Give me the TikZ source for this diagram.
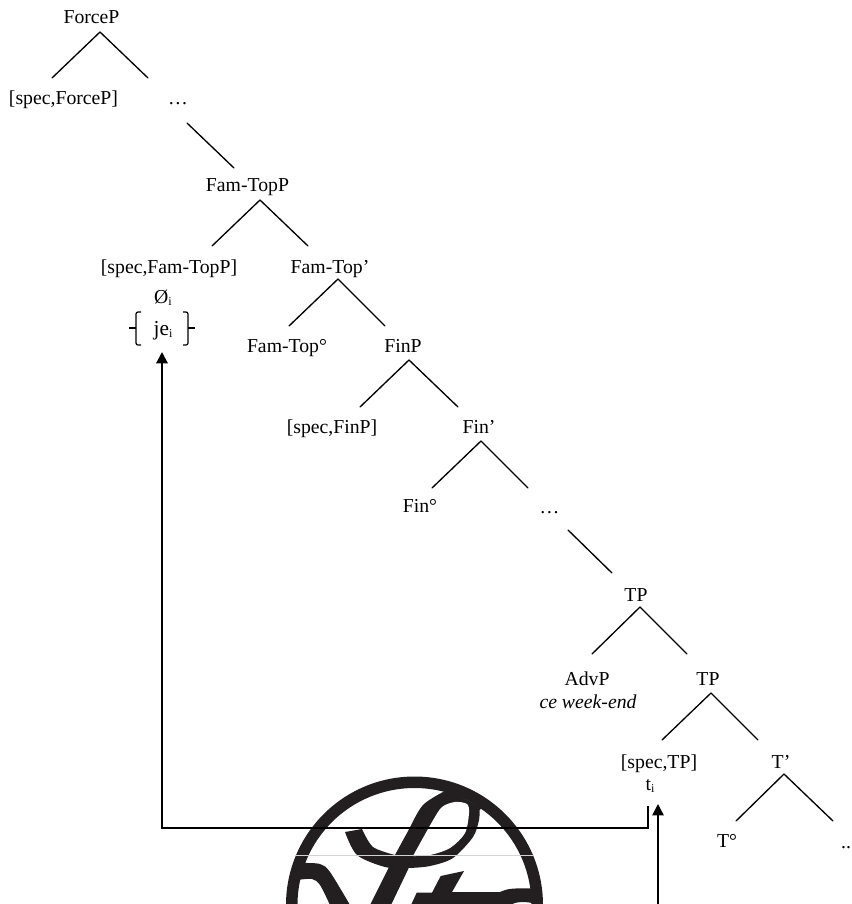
\documentclass[tikz,border=0pt]{standalone}
\usepackage{fontspec}
\setmainfont{Liberation Serif}
\usetikzlibrary{arrows.meta}
\newcommand{\subi}{\raisebox{-2pt}{\fontsize{9}{9}\selectfont i}}
\definecolor{logoink}{HTML}{231F20}
\tikzset{
  lbl/.style={inner sep=0pt,anchor=base,font=\fontsize{14.8}{17}\selectfont},
  tree/.style={line width=1pt,black,line cap=round},
  heavy/.style={line width=1.5pt,black},
  brk/.style={line width=.9pt,black},
  uptip/.style={-{Triangle[length=8.5pt,width=8.5pt]}}
}
\begin{document}
\begin{tikzpicture}[x=.75pt,y=-.75pt]
\useasboundingbox (0,0) rectangle (851,904);
% logo
\begin{scope}
\clip (0,0) rectangle (851,904);
\fill[logoink,even odd rule] (414.5,905) circle [radius=128.5] (414.5,905) circle [radius=117];
\fill[logoink] (447,790) -- (482,808)
  -- plot[smooth] coordinates {(479.5,810) (479,820) (473,837) (453,858) (430,866) (407,868) (385,867) (357,855) (345,832)}
  -- plot[smooth] coordinates {(362,829) (373,847) (395,855)}
  -- plot[smooth] coordinates {(395,855) (407,833) (423,805) (447,790)} -- cycle;
\fill[white] plot[smooth] coordinates {(413,856) (432,822) (442,807) (455,802) (467,804) (469,813) (465,833) (450,848) (430,855) (413,856)} -- cycle;
\fill[logoink] (395,855) -- (370,905) -- (391,905) -- (414,857) -- cycle;
\fill[logoink] plot[smooth] coordinates {(303,863) (320,864) (330,872) (350,905)}
  -- plot[smooth] coordinates {(330,905) (320,885) (312,879) (297,880)} -- cycle;
\fill[logoink] (416.7,892.7) -- (432,892.7) -- (440.7,876) -- (464,871) -- (452,892) -- (500,892)
  -- plot[smooth] coordinates {(500,892) (507,889.5) (515,888.5) (532,888.5)}
  -- (532,903) .. controls (525,901.5) and (515,901.5) .. (511,905) -- (411,905) -- cycle;
\draw[gray!35,line width=.3pt] (296,855) -- (533,855);
\end{scope}
% labels
\node[lbl] (ForceP) at (91.5,23) {ForceP};
\node[lbl] (specForceP) at (63.5,104) {[spec,ForceP]};
\node[lbl] (dotsA) at (178,104) {…};
\node[lbl] (FamTopP) at (247.5,191) {Fam-TopP};
\node[lbl] (specFamTopP) at (169,273) {[spec,Fam-TopP]};
\node[lbl] (FamTopBar) at (330,273) {Fam-Top’};
\node[lbl] (nulli) at (163,303) {Ø\subi};
\node[lbl,font=\fontsize{16}{18}\selectfont] (jei) at (163,335) {je\subi};
\node[lbl] (FamTopDeg) at (287,352) {Fam-Top°};
\node[lbl] (FinP) at (403,352) {FinP};
\node[lbl] (specFinP) at (332,433) {[spec,FinP]};
\node[lbl] (FinBar) at (479,433) {Fin’};
\node[lbl] (FinDeg) at (420,512) {Fin°};
\node[lbl] (dotsB) at (549.5,513) {…};
\node[lbl] (TPa) at (636,601) {TP};
\node[lbl] (AdvP) at (587,685) {AdvP};
\node[lbl] (TPb) at (708,685) {TP};
\node[lbl] (week) at (588,708) {\itshape ce week-end};
\node[lbl] (specTP) at (659,768) {[spec,TP]};
\node[lbl] (Tbar) at (781,768) {T’};
\node[lbl] (ti) at (650,790) {t\subi};
\node[lbl] (Tdeg) at (727,847) {T°};
\node[lbl] (dotsC) at (846,848) {..};
\coordinate (pagefoot) at (658,904);
% tree branches
\draw[tree] ([shift={(8.5,9)}]ForceP.base) -- ([shift={(-11.5,-26)}]specForceP.base);
\draw[tree] ([shift={(8.5,9)}]ForceP.base) -- ([shift={(-30,-26)}]dotsA.base);
\draw[tree] ([shift={(9,19)}]dotsA.base) -- ([shift={(-13.5,-23)}]FamTopP.base);
\draw[tree] ([shift={(12.5,9)}]FamTopP.base) -- ([shift={(43,-27)}]specFamTopP.base);
\draw[tree] ([shift={(12.5,9)}]FamTopP.base) -- ([shift={(-22,-27)}]FamTopBar.base);
\draw[tree] ([shift={(8,6)}]FamTopBar.base) -- ([shift={(2,-26)}]FamTopDeg.base);
\draw[tree] ([shift={(8,6)}]FamTopBar.base) -- ([shift={(-18,-26)}]FinP.base);
\draw[tree] ([shift={(6,8)}]FinP.base) -- ([shift={(28,-26)}]specFinP.base);
\draw[tree] ([shift={(6,8)}]FinP.base) -- ([shift={(-21,-26)}]FinBar.base);
\draw[tree] ([shift={(2,8)}]FinBar.base) -- ([shift={(12,-24)}]FinDeg.base);
\draw[tree] ([shift={(2,8)}]FinBar.base) -- ([shift={(-21.5,-25)}]dotsB.base);
\draw[tree] ([shift={(18.5,17)}]dotsB.base) -- ([shift={(-24,-28)}]TPa.base);
\draw[tree] ([shift={(4,6)}]TPa.base) -- ([shift={(5,-31)}]AdvP.base);
\draw[tree] ([shift={(4,6)}]TPa.base) -- ([shift={(-21,-31)}]TPb.base);
\draw[tree] ([shift={(3,8)}]TPb.base) -- ([shift={(3,-28)}]specTP.base);
\draw[tree] ([shift={(3,8)}]TPb.base) -- ([shift={(-23,-28)}]Tbar.base);
\draw[tree] ([shift={(3,6)}]Tbar.base) -- ([shift={(9,-26)}]Tdeg.base);
\draw[tree] ([shift={(3,6)}]Tbar.base) -- ([shift={(-13,-27)}]dotsC.base);
% brackets round je
\draw[brk,rounded corners=1.5pt] ([shift={(-22,-23)}]jei.base) -- ([shift={(-27,-23)}]jei.base) -- ([shift={(-27,10)}]jei.base) -- ([shift={(-22,10)}]jei.base);
\draw[brk] ([shift={(-34,-7)}]jei.base) -- ([shift={(-27,-7)}]jei.base);
\draw[brk,rounded corners=1.5pt] ([shift={(20,-23)}]jei.base) -- ([shift={(25,-23)}]jei.base) -- ([shift={(25,10)}]jei.base) -- ([shift={(20,10)}]jei.base);
\draw[brk] ([shift={(25,-7)}]jei.base) -- ([shift={(32,-7)}]jei.base);
% movement arrows
\draw[heavy,uptip] ([shift={(-2,16)}]ti.base) -- ++(0,22) -| ([shift={(-1,17)}]jei.base);
\draw[line width=1.1pt,uptip] (pagefoot) -- ([shift={(8,14)}]ti.base);
\end{tikzpicture}
\end{document}
